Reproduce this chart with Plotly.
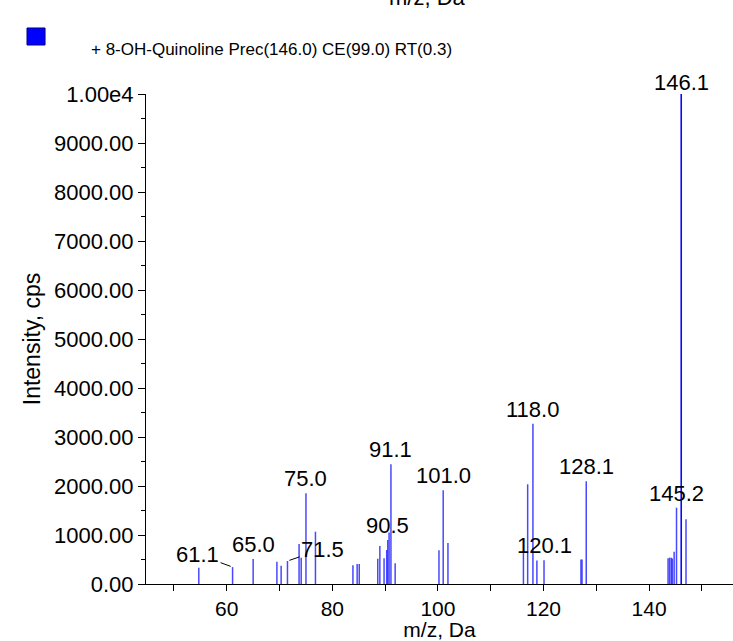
import plotly.graph_objects as go

# ---- data ----
mz = [54.7, 61.1, 65.0, 69.5, 70.3, 71.5, 73.7, 74.1, 75.0, 76.8,
      83.9, 84.7, 85.1, 88.6, 89.0, 89.8, 90.3, 90.5, 90.75, 91.1,
      91.9, 100.2, 101.0, 101.9, 116.2, 117.0, 118.0, 118.75, 120.1,
      127.1, 127.3, 128.1, 143.6, 143.9, 144.2, 144.4, 144.75, 145.2,
      146.1, 147.0]
intensity = [333, 345, 510, 455, 373, 469, 816, 537, 1851, 1067,
             385, 408, 408, 516, 775, 524, 694, 898, 1050, 2443,
             426, 690, 1915, 837, 640, 2034, 3268, 480, 483,
             500, 500, 2099, 524, 538, 538, 520, 657, 1557,
             10000, 1320]

labeled_mz = [61.1, 65.0, 71.5, 75.0, 90.5, 91.1, 101.0, 118.0, 120.1, 128.1, 145.2, 146.1]
label_text = ["61.1", "65.0", "71.5", "75.0", "90.5", "91.1", "101.0", "118.0", "120.1", "128.1", "145.2", "146.1"]

y_tickvals = [0, 1000, 2000, 3000, 4000, 5000, 6000, 7000, 8000, 9000, 10000]
y_ticktext = ["0.00", "1000.00", "2000.00", "3000.00", "4000.00", "5000.00",
              "6000.00", "7000.00", "8000.00", "9000.00", "1.00e4"]
x_tickvals = [60, 80, 100, 120, 140]
x_ticktext = ["60", "80", "100", "120", "140"]

legend_label = "+ 8-OH-Quinoline Prec(146.0) CE(99.0) RT(0.3)"
x_title = "m/z, Da"
y_title = "Intensity, cps"

X_MIN, X_MAX = 44.7, 155.9
FONT = "Arial, Liberation Sans, sans-serif"
FS = 22

# stick spectrum built from the arrays
xs, ys = [], []
for m, h in zip(mz, intensity):
    xs += [m, m, None]
    ys += [0, h, None]

fig = go.Figure()
fig.add_trace(go.Scatter(x=xs, y=ys, mode="lines",
                         line=dict(color="rgba(40,40,255,0.85)", width=1.5),
                         hoverinfo="skip", showlegend=False))
top_i = intensity.index(max(intensity))
fig.add_trace(go.Scatter(x=[mz[top_i], mz[top_i]], y=[0, intensity[top_i]], mode="lines",
                         line=dict(color="#0000ff", width=1.2),
                         hoverinfo="skip", showlegend=False))
# baseline indicator triangle
fig.add_trace(go.Scatter(x=[X_MIN - 0.85], y=[0], mode="markers",
                         marker=dict(symbol="triangle-right", size=13, color="#0000ff"),
                         cliponaxis=False, hoverinfo="skip", showlegend=False))

anns = []
for m, t in zip(labeled_mz, label_text):
    h = intensity[mz.index(m)]
    if t == "61.1":
        anns.append(dict(x=m, y=h, text=t, showarrow=True, arrowhead=0, arrowwidth=1,
                         arrowcolor="black", ax=-35, ay=-13, standoff=2,
                         font=dict(family=FONT, size=FS, color="black")))
    elif t == "71.5":
        anns.append(dict(x=m, y=h, text=t, showarrow=True, arrowhead=0, arrowwidth=1,
                         arrowcolor="black", ax=35, ay=-12, standoff=2,
                         font=dict(family=FONT, size=FS, color="black")))
    else:
        anns.append(dict(x=m, y=h, text=t, showarrow=False, yanchor="bottom",
                         yshift=(-3 if t == "146.1" else 0),
                         font=dict(family=FONT, size=FS, color="black")))

# legend text and clipped top title
anns.append(dict(xref="paper", yref="paper", x=-0.097, y=1.0898, xanchor="left", yanchor="middle",
                 text=legend_label, showarrow=False,
                 font=dict(family=FONT, size=17, color="black")))
anns.append(dict(xref="paper", yref="paper", x=0.48, y=1.196, xanchor="center", yanchor="middle",
                 text=x_title, showarrow=False,
                 font=dict(family=FONT, size=FS, color="black")))

fig.update_layout(
    width=733, height=641,
    margin=dict(l=146, r=0, t=94, b=57),
    paper_bgcolor="white", plot_bgcolor="white",
    font=dict(family=FONT, size=FS, color="black"),
    annotations=anns,
    shapes=[dict(type="rect", xref="paper", yref="paper",
                 x0=-0.2027, x1=-0.172, y0=1.1, y1=1.1347,
                 fillcolor="#0000ff", line=dict(color="#000080", width=1))],
    xaxis=dict(range=[X_MIN, X_MAX], tickmode="array", tickvals=x_tickvals, ticktext=x_ticktext,
               ticks="outside", ticklen=6, tickcolor="black", showline=True, linecolor="black",
               linewidth=1, showgrid=False, zeroline=False, automargin=False,
               tickfont=dict(family=FONT, size=21),
               minor=dict(dtick=10, tick0=0, ticks="outside", ticklen=6, tickcolor="black", showgrid=False),
               title=dict(text=x_title, standoff=0, font=dict(family=FONT, size=21))),
    yaxis=dict(range=[0, 10000], tickmode="array", tickvals=y_tickvals, ticktext=y_ticktext,
               ticks="outside", ticklen=7, tickcolor="black", showline=True, linecolor="black",
               linewidth=1, showgrid=False, zeroline=False, automargin=False,
               tickfont=dict(family=FONT, size=FS),
               minor=dict(dtick=500, tick0=0, ticks="outside", ticklen=4, tickcolor="black", showgrid=False),
               title=dict(text=y_title, standoff=7, font=dict(family=FONT, size=23))),
)

fig.write_html("out.html", config={"displayModeBar": False},
               post_script="document.body.style.margin='0';")
